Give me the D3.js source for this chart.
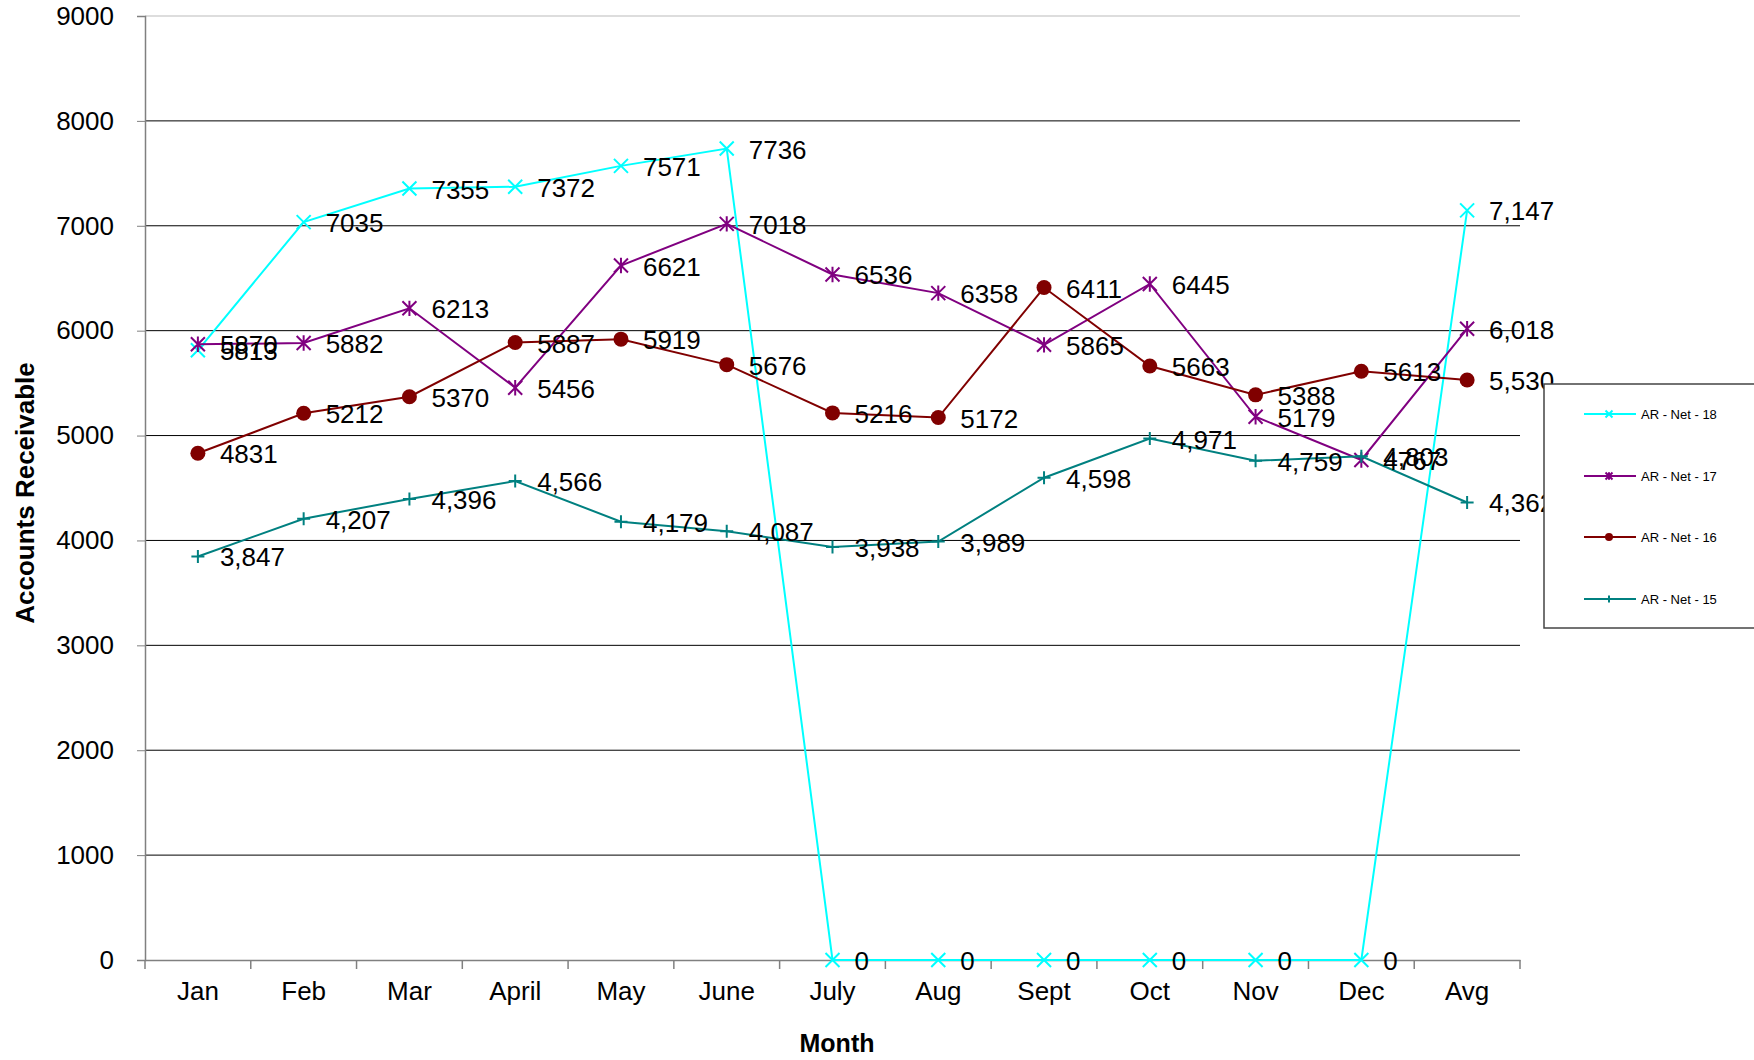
<!DOCTYPE html>
<html>
<head>
<meta charset="utf-8">
<script src="https://cdn.jsdelivr.net/npm/d3@7"></script>
<style>
  body { margin: 0; background: #fff; }
  text { font-family: Arial, "Liberation Sans", sans-serif; }
</style>
</head>
<body>
<div id="chart"></div>
<script>
const months = ["Jan", "Feb", "Mar", "April", "May", "June", "July", "Aug", "Sept", "Oct", "Nov", "Dec", "Avg"];
const yTicks = [0, 1000, 2000, 3000, 4000, 5000, 6000, 7000, 8000, 9000];

const net18 = [5813, 7035, 7355, 7372, 7571, 7736, 0, 0, 0, 0, 0, 0, 7147];
const net17 = [5870, 5882, 6213, 5456, 6621, 7018, 6536, 6358, 5865, 6445, 5179, 4767, 6018];
const net16 = [4831, 5212, 5370, 5887, 5919, 5676, 5216, 5172, 6411, 5663, 5388, 5613, 5530];
const net15 = [3847, 4207, 4396, 4566, 4179, 4087, 3938, 3989, 4598, 4971, 4759, 4803, 4362];

const series = [
  { name: "AR - Net - 18", values: net18, color: "#00ffff", marker: "x", commas: false },
  { name: "AR - Net - 17", values: net17, color: "#800080", marker: "star", commas: false },
  { name: "AR - Net - 16", values: net16, color: "#800000", marker: "circle", commas: false },
  { name: "AR - Net - 15", values: net15, color: "#008080", marker: "plus", commas: true }
];

const W = 1754, H = 1060;
const plot = { left: 145, right: 1520, top: 16, bottom: 960 };
const fs = 26;

const svg = d3.select("#chart").append("svg")
    .attr("width", W)
    .attr("height", H);

const x = d3.scaleBand().domain(months).range([plot.left, plot.right]).padding(0);
const y = d3.scaleLinear().domain([0, 9000]).range([plot.bottom, plot.top]);
const cx = d => x(d) + x.bandwidth() / 2;

// gridlines
svg.append("g").selectAll("line")
    .data(yTicks.filter(t => t > 0))
    .enter().append("line")
    .attr("x1", plot.left).attr("x2", plot.right)
    .attr("y1", d => y(d)).attr("y2", d => y(d))
    .attr("stroke", d => d === 9000 ? "#bbb" : "#000")
    .attr("stroke-width", 1);

// y axis
const yAxis = svg.append("g")
    .attr("transform", `translate(${plot.left},0)`)
    .call(d3.axisLeft(y).tickValues(yTicks).tickSize(8).tickPadding(23).tickFormat(d3.format("d")));
yAxis.select(".domain").attr("stroke", "#808080").attr("stroke-width", 1.5);
yAxis.selectAll(".tick line").attr("stroke", "#808080");
yAxis.selectAll(".tick text").attr("font-size", fs).attr("fill", "#000")
    .style("font-family", "Arial, 'Liberation Sans', sans-serif");

// x axis
const xAxis = svg.append("g")
    .attr("transform", `translate(0,${plot.bottom})`)
    .call(d3.axisBottom(x).tickSize(0).tickPadding(22));
xAxis.select(".domain").attr("stroke", "#808080").attr("stroke-width", 1.5);
xAxis.selectAll(".tick text").attr("font-size", fs).attr("fill", "#000")
    .style("font-family", "Arial, 'Liberation Sans', sans-serif");

// boundary ticks on x axis
svg.append("g").selectAll("line")
    .data(months.map(m => x(m)).concat([plot.right]))
    .enter().append("line")
    .attr("x1", d => d).attr("x2", d => d)
    .attr("y1", plot.bottom).attr("y2", plot.bottom + 9)
    .attr("stroke", "#808080").attr("stroke-width", 1.5);

// axis titles
svg.append("text")
    .attr("transform", `translate(34,493) rotate(-90)`)
    .attr("text-anchor", "middle")
    .attr("font-size", fs).attr("font-weight", "bold")
    .text("Accounts Receivable");

svg.append("text")
    .attr("x", 837).attr("y", 1052)
    .attr("text-anchor", "middle")
    .attr("font-size", 25).attr("font-weight", "bold")
    .text("Month");

function markerPath(type, s) {
  const h = s / 2;
  if (type === "x") return `M${-h},${-h}L${h},${h}M${-h},${h}L${h},${-h}`;
  if (type === "star") return `M${-h},${-h}L${h},${h}M${-h},${h}L${h},${-h}M0,${-h * 1.1}L0,${h * 1.1}`;
  if (type === "plus") return `M${-h},0L${h},0M0,${-h}L0,${h}`;
  return "";
}

function drawMarker(g, type, color, size) {
  if (type === "circle") {
    g.append("circle").attr("r", size / 2).attr("fill", color);
  } else {
    g.append("path").attr("d", markerPath(type, size))
        .attr("stroke", color).attr("stroke-width", 2).attr("fill", "none");
  }
}

const sizes = { x: 14, star: 14, circle: 15, plus: 13 };

const line = d3.line().x(d => cx(d.m)).y(d => y(d.v));

series.forEach(s => {
  const pts = s.values.map((v, i) => ({ m: months[i], v }));
  svg.append("path")
      .datum(pts)
      .attr("d", line)
      .attr("fill", "none")
      .attr("stroke", s.color)
      .attr("stroke-width", 2);
  pts.forEach(p => {
    const g = svg.append("g").attr("transform", `translate(${cx(p.m)},${y(p.v)})`);
    drawMarker(g, s.marker, s.color, sizes[s.marker]);
  });
});

// data labels
series.forEach(s => {
  svg.append("g").selectAll("text")
      .data(s.values.map((v, i) => ({ m: months[i], v })))
      .enter().append("text")
      .attr("x", d => cx(d.m) + 22)
      .attr("y", d => y(d.v) + 10)
      .attr("font-size", fs)
      .attr("fill", "#000")
      .text(d => (s.commas || d.m === "Avg") ? d3.format(",")(d.v) : String(d.v));
});

// legend
const legend = svg.append("g").attr("transform", "translate(1544,384)");
legend.append("rect")
    .attr("width", 260).attr("height", 244)
    .attr("fill", "#fff").attr("stroke", "#444").attr("stroke-width", 1.5);

const legendRows = [30, 92, 153, 215];
series.forEach((s, i) => {
  const row = legend.append("g").attr("transform", `translate(0,${legendRows[i]})`);
  row.append("line").attr("x1", 40).attr("x2", 92).attr("y1", 0).attr("y2", 0)
      .attr("stroke", s.color).attr("stroke-width", 2);
  const m = row.append("g").attr("transform", "translate(65,0)");
  drawMarker(m, s.marker, s.color, s.marker === "circle" ? 8 : 7);
  row.append("text").attr("x", 97).attr("y", 5)
      .attr("font-size", 13).attr("fill", "#000")
      .text(s.name);
});
</script>
</body>
</html>
